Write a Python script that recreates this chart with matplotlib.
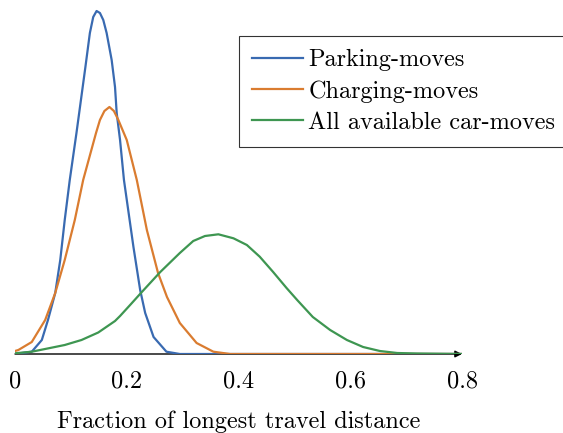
import numpy as np
import matplotlib
matplotlib.use('Agg')
import matplotlib.pyplot as plt

# density curves (arbitrary height units)
parking_x = [0, 0.012, 0.03, 0.048, 0.059, 0.072, 0.081, 0.089, 0.098, 0.11, 0.118,
             0.126, 0.134, 0.14, 0.146, 0.152, 0.158, 0.164, 0.173, 0.179, 0.182,
             0.188, 0.195, 0.212, 0.224, 0.233, 0.248, 0.271, 0.295, 0.8]
parking_y = [0, 1, 2.3, 14, 34, 61, 94, 134, 174, 221, 254,
             287, 321, 337, 343, 341, 334, 321, 294, 267, 241,
             214, 174, 107, 64, 41, 17, 2.3, 0, 0]

charging_x = [0, 0.006, 0.03, 0.054, 0.072, 0.089, 0.107, 0.122, 0.145, 0.152, 0.16,
              0.169, 0.177, 0.185, 0.2, 0.218, 0.236, 0.256, 0.272, 0.295, 0.325,
              0.355, 0.385, 0.8]
charging_y = [3, 4, 12, 34, 61, 94, 134, 174, 221, 234, 243,
              247, 243, 234, 214, 174, 124, 81, 57, 31, 11,
              2.3, 0, 0]

all_x = [0, 0.03, 0.06, 0.089, 0.119, 0.149, 0.179, 0.188, 0.206, 0.227, 0.26,
         0.295, 0.319, 0.34, 0.364, 0.391, 0.415, 0.438, 0.462, 0.486, 0.505,
         0.533, 0.564, 0.594, 0.623, 0.653, 0.684, 0.72, 0.8]
all_y = [0.7, 2.3, 5.7, 9, 14, 21.5, 33, 38, 49, 62, 82,
         101, 113, 118, 119.7, 115.7, 109, 97.3, 82, 66, 54,
         37, 24, 14, 7, 3, 1, 0.5, 0]

xticks = [0, 0.2, 0.4, 0.6, 0.8]

plt.rcParams['font.family'] = 'cmr10'
plt.rcParams['axes.formatter.use_mathtext'] = True

fig = plt.figure(figsize=(5.63, 4.33), dpi=100)
ax = fig.add_axes([15/563, (433-354)/433, (462-15)/563, (354-9)/433])

ax.plot(parking_x, parking_y, color='#396AB1', lw=1.6, label='Parking-moves', zorder=3)
ax.plot(charging_x, charging_y, color='#DA7C30', lw=1.6, label='Charging-moves', zorder=3)
ax.plot(all_x, all_y, color='#3E9651', lw=1.6, label='All available car-moves', zorder=3)

ax.set_xlim(0, 0.8)
ax.set_ylim(0, 345)
for s in ax.spines.values():
    s.set_visible(False)
ax.set_yticks([])
ax.set_xticks(xticks)
ax.set_xticklabels(['0', '0.2', '0.4', '0.6', '0.8'])
ax.tick_params(axis='x', length=0, pad=12, labelsize=17.5)
ax.set_xlabel('Fraction of longest travel distance', fontsize=17.5, labelpad=13)

# x axis line with arrow
ax.annotate('', xy=(0.8, 0), xytext=(0, 0), xycoords='data',
            arrowprops=dict(arrowstyle='-|>', color='black', lw=1.0,
                            mutation_scale=10, shrinkA=0, shrinkB=0),
            zorder=2, annotation_clip=False)

leg = fig.legend(loc='upper left', bbox_to_anchor=(239/563, 1-36/433),
                 fontsize=17.5, frameon=True, fancybox=False, borderaxespad=0,
                 handlelength=2.1, handletextpad=0.2, labelspacing=0.36,
                 borderpad=0.55)
leg.get_frame().set_edgecolor('black')
leg.get_frame().set_linewidth(0.8)

fig.savefig('out.png', dpi=100)
